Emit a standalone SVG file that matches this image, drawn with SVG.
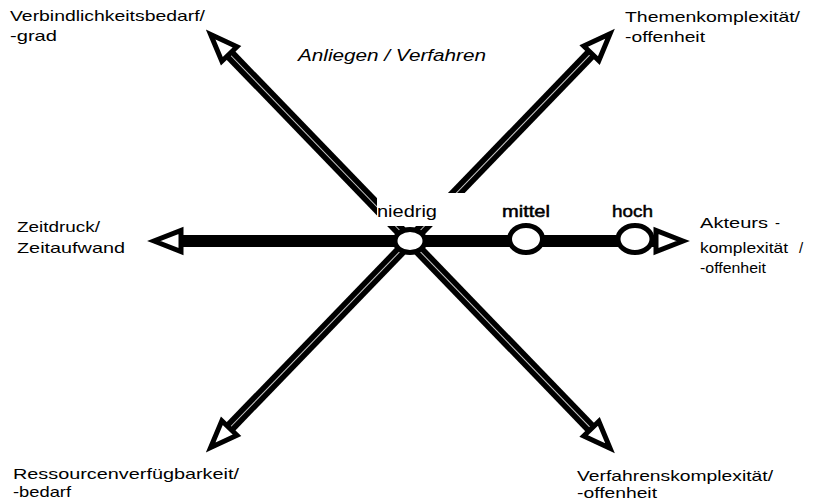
<svg xmlns="http://www.w3.org/2000/svg" xmlns:xlink="http://www.w3.org/1999/xlink" width="823" height="501" viewBox="0 0 823 501">
<style>
.lbl{font-family:"Liberation Sans",Arial,sans-serif;font-size:15px;fill:#000}
.lvl{font-family:"Liberation Sans",Arial,sans-serif;font-size:17px;fill:#000}
.med{stroke:#000;stroke-width:0.5}
.ttl{font-family:"Liberation Sans",Arial,sans-serif;font-size:16px;font-style:italic;fill:#000}
.shaft{stroke:#000;stroke-width:12;fill:none}
.inner{stroke:#c8c8c8;stroke-width:1;fill:none}
.head{fill:#fff;stroke:#000;stroke-width:5;stroke-linejoin:miter;stroke-miterlimit:10}
.ring{fill:#fff;stroke:#000;stroke-width:5}
</style>
<defs>
<polygon id="ah" class="head" points="0,0 -27,-10.5 -27,10.5"/>
</defs>
<rect width="823" height="501" fill="#fff"/>
<g id="connectors">
  <g transform="translate(410,241) rotate(-134)">
    <line class="shaft" x1="0" y1="0" x2="261" y2="0"/>
    <line class="inner" x1="0" y1="0" x2="261" y2="0"/>
    <use xlink:href="#ah" x="287" y="0"/>
  </g>
  <g transform="translate(410,241) rotate(-46)">
    <line class="shaft" x1="0" y1="0" x2="262" y2="0"/>
    <line class="inner" x1="0" y1="0" x2="262" y2="0"/>
    <use xlink:href="#ah" x="288" y="0"/>
  </g>
  <g transform="translate(410,241) rotate(134)">
    <line class="shaft" x1="0" y1="0" x2="261" y2="0"/>
    <line class="inner" x1="0" y1="0" x2="261" y2="0"/>
    <use xlink:href="#ah" x="287" y="0"/>
  </g>
  <g transform="translate(410,241) rotate(46)">
    <line class="shaft" x1="0" y1="0" x2="262" y2="0"/>
    <line class="inner" x1="0" y1="0" x2="262" y2="0"/>
    <use xlink:href="#ah" x="288" y="0"/>
  </g>
  <line class="shaft" x1="181" y1="241" x2="659" y2="241"/>
  <use xlink:href="#ah" transform="translate(154,241) rotate(180)"/>
  <use xlink:href="#ah" transform="translate(683,241)"/>
</g>
<g id="title"><text class="ttl" x="298" y="61" textLength="188" lengthAdjust="spacingAndGlyphs">Anliegen / Verfahren</text></g>
<g id="niedrig">
  <rect x="377" y="193" width="88" height="33" fill="#fff"/>
  <text class="lvl" x="377" y="217" textLength="60" lengthAdjust="spacingAndGlyphs">niedrig</text>
  <ellipse class="ring" cx="410" cy="241" rx="15" ry="11.5"/>
</g>
<g id="mittel">
  <text class="lvl med" x="502" y="217" textLength="48" lengthAdjust="spacingAndGlyphs">mittel</text>
  <ellipse class="ring" cx="526" cy="239" rx="16.5" ry="13.5"/>
</g>
<g id="hoch">
  <text class="lvl med" x="612" y="217" textLength="41" lengthAdjust="spacingAndGlyphs">hoch</text>
  <ellipse class="ring" cx="635" cy="239" rx="17" ry="13.5"/>
</g>
<g id="verbindlichkeit">
  <text class="lbl" x="10" y="21" textLength="195" lengthAdjust="spacingAndGlyphs">Verbindlichkeitsbedarf/</text>
  <text class="lbl" x="10" y="41" textLength="47" lengthAdjust="spacingAndGlyphs">-grad</text>
</g>
<g id="themen">
  <text class="lbl" x="625" y="22" textLength="175" lengthAdjust="spacingAndGlyphs">Themenkomplexität/</text>
  <text class="lbl" x="625" y="42" textLength="80" lengthAdjust="spacingAndGlyphs">-offenheit</text>
</g>
<g id="zeit">
  <text class="lbl" x="17" y="232" textLength="83" lengthAdjust="spacingAndGlyphs">Zeitdruck/</text>
  <text class="lbl" x="17" y="253" textLength="108" lengthAdjust="spacingAndGlyphs">Zeitaufwand</text>
</g>
<g id="akteurs">
  <text class="lbl" x="700" y="228" textLength="68" lengthAdjust="spacingAndGlyphs">Akteurs</text>
  <text class="lbl" x="775" y="228">-</text>
  <text class="lbl" x="700" y="253" textLength="88" lengthAdjust="spacingAndGlyphs">komplexität</text>
  <text class="lbl" x="799" y="253">/</text>
  <text class="lbl" x="700" y="273" textLength="66" lengthAdjust="spacingAndGlyphs">-offenheit</text>
</g>
<g id="ressourcen">
  <text class="lbl" x="13" y="479" textLength="226" lengthAdjust="spacingAndGlyphs">Ressourcenverfügbarkeit/</text>
  <text class="lbl" x="13" y="497" textLength="58" lengthAdjust="spacingAndGlyphs">-bedarf</text>
</g>
<g id="verfahren">
  <text class="lbl" x="577" y="481" textLength="196" lengthAdjust="spacingAndGlyphs">Verfahrenskomplexität/</text>
  <text class="lbl" x="577" y="498" textLength="80" lengthAdjust="spacingAndGlyphs">-offenheit</text>
</g>
</svg>
